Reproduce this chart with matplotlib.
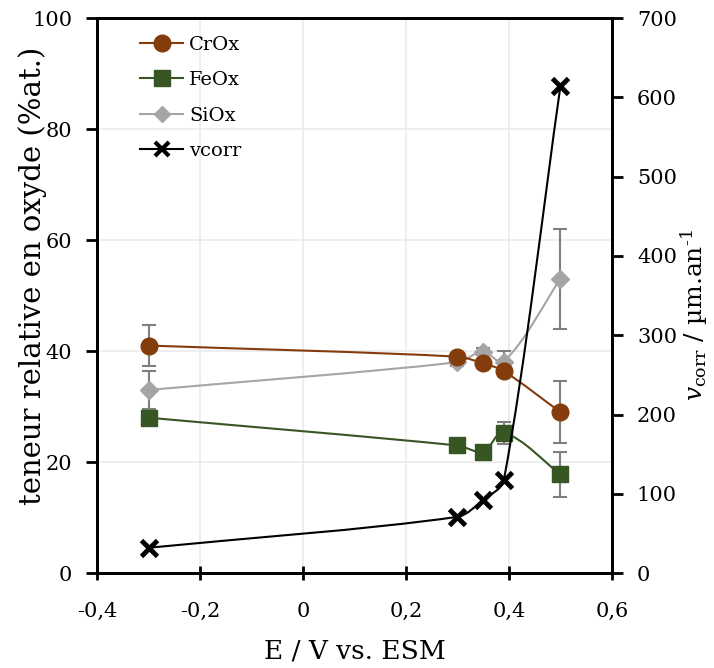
import matplotlib
matplotlib.use("Agg")
import matplotlib.pyplot as plt
import numpy as np
from matplotlib.path import Path
from matplotlib.patches import PathPatch
from matplotlib.lines import Line2D
from matplotlib.ticker import FuncFormatter

plt.rcParams['font.family'] = ['DejaVu Serif']
plt.rcParams['mathtext.fontset'] = 'dejavuserif'

# data
potential = [-0.3, 0.3, 0.35, 0.39, 0.5]
crox = [41.0, 39.0, 37.8, 36.4, 29.0]
crox_err = [3.7, 0.6, 0.6, 0.8, 5.6]
feox = [28.0, 23.0, 21.9, 25.3, 17.8]
feox_err = [0.8, 0.6, 0.6, 2.0, 4.0]
siox = [33.0, 38.0, 39.9, 38.1, 53.0]
siox_err = [3.4, 0.6, 0.6, 2.0, 9.0]
vcorr = [32, 71, 92, 117, 614]

c_cr = '#843C0C'
c_fe = '#375623'
c_si = '#A5A5A5'
c_err = '#7F7F7F'


def smooth_path(axis, x, y, k=0.3):
    # Excel-like smoothed line, built in screen space: tangent direction from
    # the neighbours, control arm length proportional to each segment length
    tr = axis.transData
    p = tr.transform(np.column_stack([x, y]))
    n = len(p)
    tang = []
    for i in range(n):
        a = p[max(i - 1, 0)]
        b = p[min(i + 1, n - 1)]
        t = b - a
        tang.append(t / np.hypot(*t))
    verts = [p[0]]
    codes = [Path.MOVETO]
    for i in range(n - 1):
        L = np.hypot(*(p[i + 1] - p[i]))
        verts += [p[i] + tang[i] * L * k, p[i + 1] - tang[i + 1] * L * k, p[i + 1]]
        codes += [Path.CURVE4] * 3
    verts = tr.inverted().transform(np.array(verts))
    return Path(verts, codes)


fig = plt.figure(figsize=(7.14, 6.68), dpi=100)
ax = fig.add_axes([0.136, 0.142, 0.721, 0.831])
ax2 = ax.twinx()

ax.set_xlim(-0.4, 0.6)
ax.set_ylim(0, 100)
ax2.set_ylim(0, 700)

for yv, err, col, mk, ms in [(siox, siox_err, c_si, 'D', 9),
                             (feox, feox_err, c_fe, 's', 12),
                             (crox, crox_err, c_cr, 'o', 12)]:
    ax.add_patch(PathPatch(smooth_path(ax, potential, yv), fill=False,
                           edgecolor=col, lw=1.5, zorder=2))
    ax.errorbar(potential, yv, yerr=err, fmt='none', ecolor=c_err,
                elinewidth=1.5, capsize=5, capthick=1.5, zorder=3)
    ax.plot(potential, yv, ls='none', marker=mk, ms=ms, color=col,
            mec=col, zorder=4)

ax2.add_patch(PathPatch(smooth_path(ax2, potential, vcorr), fill=False,
                        edgecolor='black', lw=1.5, zorder=2))
ax2.plot(potential, vcorr, ls='none', marker='x', ms=12, mew=3.5,
         color='black', zorder=3)

ax.set_xticks(np.arange(-0.4, 0.61, 0.2))
ax.set_yticks(np.arange(0, 101, 20))
ax2.set_yticks(np.arange(0, 701, 100))


def comma(v, pos):
    if abs(v) < 1e-9:
        return '0'
    return ('%.1f' % v).replace('.', ',')


ax.xaxis.set_major_formatter(FuncFormatter(comma))
ax.grid(True, color='#EBEBEB', lw=1.2)
ax.set_axisbelow(True)

for a in (ax, ax2):
    for s in a.spines.values():
        s.set_linewidth(2)
    a.tick_params(width=2, length=8, labelsize=15, direction='out', pad=10)
ax.tick_params(axis='x', direction='inout', length=10, pad=16)

ax.set_xlabel('E / V vs. ESM', fontsize=19)
ax.set_ylabel('teneur relative en oxyde (%at.)', fontsize=21)
ax2.set_ylabel(r'$v_{\mathrm{corr}}$ / µm.an$^{\mathrm{\text{-}1}}$', fontsize=18)
ax.xaxis.set_label_coords(0.5, -0.118)
ax.yaxis.set_label_coords(-0.097, 0.535)
ax2.yaxis.set_label_coords(1.13, 0.465)

handles = [
    Line2D([], [], color=c_cr, marker='o', ms=12, lw=1.5),
    Line2D([], [], color=c_fe, marker='s', ms=12, lw=1.5),
    Line2D([], [], color=c_si, marker='D', ms=8, lw=1.5),
    Line2D([], [], color='black', marker='x', ms=10, mew=3, lw=1.5),
]
ax2.legend(handles, ['CrOx', 'FeOx', 'SiOx', 'vcorr'], loc='upper left',
           bbox_to_anchor=(0.05, 1.0), frameon=False, fontsize=14,
           handlelength=2.2, handletextpad=0.3, labelspacing=0.9)

fig.savefig('out.png', dpi=100)
